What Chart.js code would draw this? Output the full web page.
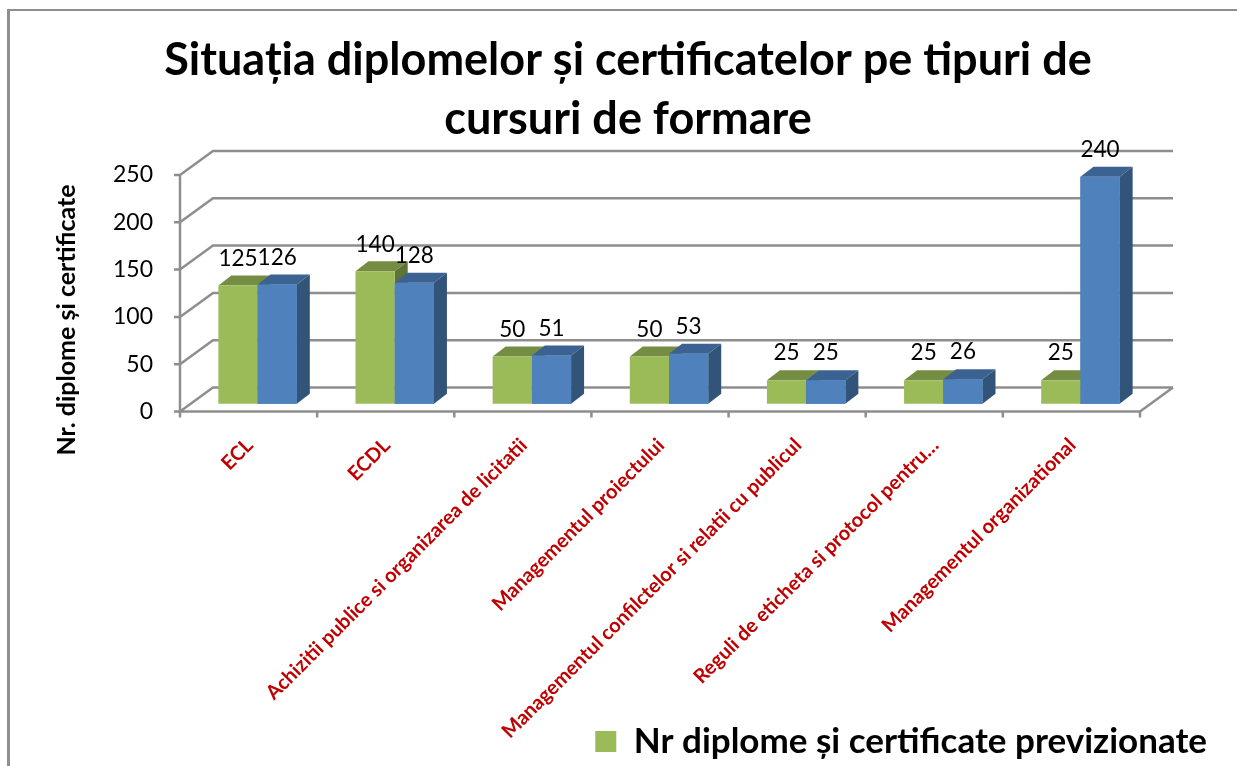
<!DOCTYPE html>
<html>
<head>
<meta charset="utf-8">
<script src="https://cdn.jsdelivr.net/npm/chart.js@4/dist/chart.umd.min.js"></script>
<style>
  html, body { margin: 0; padding: 0; background: #fff; }
  #wrap { width: 1237px; height: 766px; }
</style>
</head>
<body>
<div id="wrap"><canvas id="canvas"></canvas></div>
<script>
const categories = [
  'ECL',
  'ECDL',
  'Achizitii publice si organizarea de licitatii',
  'Managementul proiectului',
  'Managementul confilctelor si relatii cu publicul',
  'Reguli de eticheta si protocol pentru…',
  'Managementul organizational'
];
const previzionate = [125, 140, 50, 50, 25, 25, 25];
const realizate = [126, 128, 51, 53, 25, 26, 240];
const yTicks = [0, 50, 100, 150, 200, 250];

const FONT = 'Lato, "Open Sans", sans-serif';
const DEPTH = { x: 33, y: 24 };      // floor depth of the fake 3d box
const BAR_DEPTH = { x: 13, y: 10 };  // depth of a bar
const BAR_SHIFT = 9;                 // bars sit a bit inside the box
const LINE = '#8e8e8e';

function poly(ctx, pts, color) {
  ctx.fillStyle = color;
  ctx.beginPath();
  pts.forEach((p, i) => i ? ctx.lineTo(p[0], p[1]) : ctx.moveTo(p[0], p[1]));
  ctx.closePath();
  ctx.fill();
}

function barFaces(ctx, bar, top, side) {
  const l = bar.x - bar.width / 2, r = bar.x + bar.width / 2;
  const dx = BAR_DEPTH.x, dy = BAR_DEPTH.y;
  poly(ctx, [[l, bar.y], [r, bar.y], [r + dx, bar.y - dy], [l + dx, bar.y - dy]], top);
  poly(ctx, [[r, bar.y], [r + dx, bar.y - dy], [r + dx, bar.base - dy], [r, bar.base]], side);
}

const box3d = {
  id: 'box3d',
  afterLayout(chart) {
    // long labels run down past the legend top, chart.js would clip them at the box
    chart.scales.x.bottom = chart.height;
  },
  beforeDraw(chart) {
    // picture frame, only top and left show on the page
    const ctx = chart.ctx;
    ctx.save();
    ctx.fillStyle = '#8e8e8e';
    ctx.fillRect(7, 9, 1230, 2);
    ctx.fillRect(7, 9, 3, 757);
    ctx.restore();
  },
  beforeDatasetsDraw(chart) {
    const ctx = chart.ctx, y = chart.scales.y, x = chart.scales.x;
    const left = x.left - BAR_SHIFT, right = x.right - BAR_SHIFT;
    const bottom = y.getPixelForValue(0), top = y.getPixelForValue(250);
    ctx.save();
    ctx.strokeStyle = LINE;
    ctx.lineWidth = 2.5;
    ctx.beginPath();
    yTicks.forEach(v => {
      const py = y.getPixelForValue(v);
      ctx.moveTo(left - 6, py);
      ctx.lineTo(left, py);
      ctx.lineTo(left + DEPTH.x, py - DEPTH.y);
      ctx.lineTo(right + DEPTH.x, py - DEPTH.y);
    });
    ctx.moveTo(left, top);
    ctx.lineTo(left, bottom);
    ctx.lineTo(right, bottom);
    ctx.lineTo(right + DEPTH.x, bottom - DEPTH.y);
    for (let i = 0; i <= categories.length; i++) {
      const px = left + i * (right - left) / categories.length;
      ctx.moveTo(px, bottom);
      ctx.lineTo(px, bottom + 6);
    }
    ctx.stroke();
    ctx.restore();
  },
  beforeDatasetDraw(chart, args) {
    if (args.index !== 0) return;
    chart.getDatasetMeta(0).data.forEach(bar => barFaces(chart.ctx, bar, '#758D43', '#5F7336'));
  },
  afterDatasetsDraw(chart) {
    // blue goes over green, chart.js draws them the other way round
    const ctx = chart.ctx;
    chart.getDatasetMeta(1).data.forEach(bar => {
      barFaces(ctx, bar, '#3C6291', '#325479');
      bar.draw(ctx);
    });
    ctx.save();
    ctx.fillStyle = '#000';
    ctx.font = '22.5px ' + FONT;
    ctx.textAlign = 'center';
    ctx.textBaseline = 'middle';
    chart.data.datasets.forEach((ds, i) => {
      chart.getDatasetMeta(i).data.forEach((bar, j) => {
        ctx.fillText(ds.data[j], bar.x, bar.y - 27);
      });
    });
    // axis title sits lower than the middle of the axis, so it is placed here
    ctx.translate(67, 320);
    ctx.rotate(-Math.PI / 2);
    ctx.font = 'bold 25px ' + FONT;
    ctx.fillText('Nr. diplome și certificate', 0, 0);
    ctx.restore();
  }
};

new Chart(document.getElementById('canvas').getContext('2d'), {
  type: 'bar',
  data: {
    labels: categories,
    datasets: [
      { label: 'Nr diplome și certificate previzionate', data: previzionate, backgroundColor: '#9BBB59', yAxisID: 'yBars' },
      { label: '', data: realizate, backgroundColor: '#4F81BD', yAxisID: 'yBars' }
    ]
  },
  options: {
    responsive: true,
    maintainAspectRatio: false,
    animation: false,
    categoryPercentage: 0.572,
    barPercentage: 1,
    layout: { padding: { left: 49, right: 30, top: 30, bottom: -3 } },
    plugins: {
      tooltip: { enabled: false },
      title: {
        display: true,
        text: ['Situația diplomelor și certificatelor pe tipuri de', 'cursuri de formare'],
        color: '#000',
        font: { family: FONT, size: 45, weight: 'bold', lineHeight: 1.333 },
        padding: { top: 0, bottom: 25 }
      },
      legend: {
        position: 'bottom',
        align: 'end',
        labels: {
          filter: item => item.text,
          color: '#000',
          font: { family: FONT, size: 35, weight: 'bold' },
          boxWidth: 21,
          boxHeight: 21,
          padding: 0
        }
      }
    },
    scales: {
      x: {
        grid: { display: false },
        border: { display: false },
        afterFit: s => { s.height = 312.5; },
        ticks: {
          autoSkip: false,
          minRotation: 45,
          maxRotation: 45,
          padding: 14,
          labelOffset: -8,
          color: '#C00000',
          font: { family: FONT, size: 20, weight: 'bold' }
        }
      },
      // front face of the box: carries the tick labels
      y: {
        min: 0,
        max: 250,
        afterFit: s => { s.width = 140; },
        afterBuildTicks: s => { s.ticks = yTicks.map(value => ({ value })); },
        grid: { display: false },
        border: { display: false },
        ticks: { padding: 28, color: '#000', font: { family: FONT, size: 23 } }
      },
      // same units, lifted off the front edge so the bars stand inside the box
      yBars: {
        position: 'right',
        min: -8.13,
        max: 241.87,
        afterFit: s => { s.width = 58; },
        grid: { display: false },
        border: { display: false },
        ticks: { display: false }
      }
    }
  },
  plugins: [box3d]
});
</script>
</body>
</html>
